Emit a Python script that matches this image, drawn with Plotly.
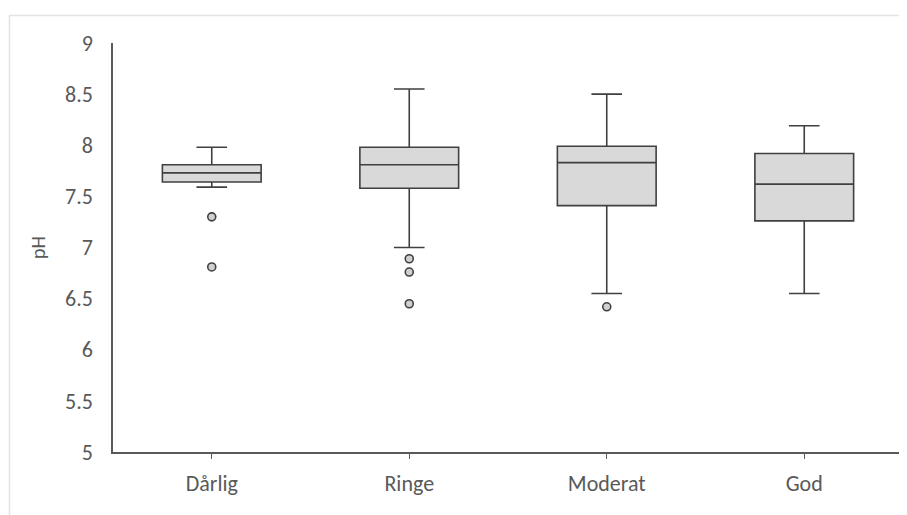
import plotly.graph_objects as go

categories = ["Dårlig", "Ringe", "Moderat", "God"]
lower_whisker = [7.59, 7.00, 6.55, 6.55]
q1_values = [7.64, 7.58, 7.41, 7.26]
median_values = [7.73, 7.81, 7.83, 7.62]
q3_values = [7.81, 7.98, 7.99, 7.92]
upper_whisker = [7.98, 8.55, 8.50, 8.19]

outlier_categories = ["Dårlig", "Dårlig", "Ringe", "Ringe", "Ringe", "Moderat"]
outlier_values = [7.30, 6.81, 6.89, 6.76, 6.45, 6.42]

y_ticks = [5, 5.5, 6, 6.5, 7, 7.5, 8, 8.5, 9]
y_tick_labels = ["5", "5.5", "6", "6.5", "7", "7.5", "8", "8.5", "9"]

FONT = "Carlito, Calibri, 'Liberation Sans Narrow', 'Open Sans', sans-serif"
LINE = "#404040"
TEXT = "#595959"

L, T, PW, PH = 105, 35, 790, 409

fig = go.Figure()
fig.add_trace(go.Box(
    x=categories,
    q1=q1_values,
    median=median_values,
    q3=q3_values,
    lowerfence=lower_whisker,
    upperfence=upper_whisker,
    width=0.5,
    whiskerwidth=0.31,
    fillcolor="#d9d9d9",
    line=dict(color=LINE, width=1.6),
    boxpoints=False,
    hoverinfo="skip",
    showlegend=False,
))
fig.add_trace(go.Scatter(
    x=outlier_categories,
    y=outlier_values,
    mode="markers",
    marker=dict(size=8, color="#d0d0d0", line=dict(color=LINE, width=1.6)),
    showlegend=False,
    hoverinfo="skip",
))

fig.update_layout(
    width=907, height=515,
    margin=dict(l=L, r=907 - L - PW, t=T, b=515 - T - PH),
    paper_bgcolor="white", plot_bgcolor="white",
    font=dict(family=FONT, size=22, color=TEXT),
    shapes=[dict(
        type="rect", xref="paper", yref="paper",
        x0=(1.5 - L) / PW, x1=1.1, y0=-0.3, y1=1 + (T - 7.5) / PH,
        line=dict(color="#e3e3e3", width=1.5), fillcolor="rgba(0,0,0,0)", layer="below",
    )],
)
fig.update_xaxes(
    type="category", categoryorder="array", categoryarray=categories,
    range=[-0.5, 3.5],
    showline=True, linecolor=TEXT, linewidth=1.5,
    ticks="outside", ticklen=5, tickcolor=TEXT, tickwidth=1.2,
    ticklabelstandoff=6,
    showgrid=False, zeroline=False,
    tickfont=dict(family=FONT, size=22, color=TEXT),
)
fig.update_yaxes(
    range=[5, 9], tickvals=y_ticks, ticktext=y_tick_labels,
    showline=True, linecolor=TEXT, linewidth=1.5,
    ticks="", showgrid=False, zeroline=False,
    ticklabelstandoff=14,
    tickfont=dict(family=FONT, size=22, color=TEXT),
    title=dict(text="pH", font=dict(family=FONT, size=20, color=TEXT), standoff=14),
)

fig.write_html("out.html")
